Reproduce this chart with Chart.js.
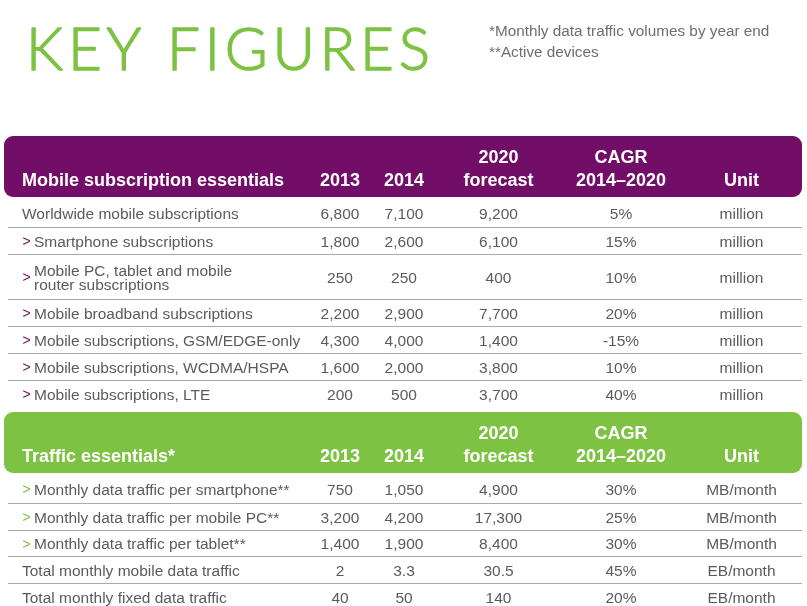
<!DOCTYPE html>
<html><head><meta charset="utf-8">
<script src="https://cdn.jsdelivr.net/npm/chart.js@4.4.0/dist/chart.umd.min.js"></script>
<style>html,body{margin:0;padding:0;background:#fff}#wrap{width:807px;height:606px;position:relative}</style>
</head><body><div id="wrap"><canvas id="c" width="807" height="606"></canvas></div>
<script>
// ---------- DATA ----------
const titleText = 'KEY FIGURES';
const footnotes = ['*Monthly data traffic volumes by year end', '**Active devices'];
const headerLine1 = ['', '', '', '2020', 'CAGR', ''];
const headerLine2 = ['', '2013', '2014', 'forecast', '2014–2020', 'Unit'];

const subSection = 'Mobile subscription essentials';
const subRows = ['Worldwide mobile subscriptions', 'Smartphone subscriptions',
  'Mobile PC, tablet and mobile\nrouter subscriptions', 'Mobile broadband subscriptions',
  'Mobile subscriptions, GSM/EDGE-only', 'Mobile subscriptions, WCDMA/HSPA', 'Mobile subscriptions, LTE'];
const subIndent = [false, true, true, true, true, true, true];
const sub2013 = [6800, 1800, 250, 2200, 4300, 1600, 200];
const sub2014 = [7100, 2600, 250, 2900, 4000, 2000, 500];
const sub2020 = [9200, 6100, 400, 7700, 1400, 3800, 3700];
const subCagr = [5, 15, 10, 20, -15, 10, 40];
const subUnit = ['million', 'million', 'million', 'million', 'million', 'million', 'million'];

const trafficSection = 'Traffic essentials*';
const trafficRows = ['Monthly data traffic per smartphone**', 'Monthly data traffic per mobile PC**',
  'Monthly data traffic per tablet**', 'Total monthly mobile data traffic', 'Total monthly fixed data traffic'];
const trafficIndent = [true, true, true, false, false];
const traffic2013 = [750, 3200, 1400, 2, 40];
const traffic2014 = [1050, 4200, 1900, 3.3, 50];
const traffic2020 = [4900, 17300, 8400, 30.5, 140];
const trafficCagr = [30, 25, 30, 45, 20];
const trafficUnit = ['MB/month', 'MB/month', 'MB/month', 'EB/month', 'EB/month'];

// ---------- LAYOUT / STYLE ----------
const LAYOUT = {
  colX: [22, 340, 404, 498.5, 621, 741.5],
  indentX: 34,
  boxLeft: 4, boxRight: 802, lineLeft: 8, lineRight: 802, radius: 9,
  headerH: 61, head1: 27, head2: 50,
  sections: [
    { top: 136, rowH: [30, 26.5, 45, 27, 27, 27, 27], color: '#730e68' },
    { top: 412, rowH: [30, 26.5, 26.5, 27, 27], color: '#7dc242' }
  ],
  title: { x: 26, y: 70, right: 430, font: '300 60px Lato', color: '#7dc242', spacing: 5, weight: 1.4 },
  notes: { x: 489, y: [36, 57], font: '15.3px "Liberation Sans"', color: '#6d6e71' },
  bodyFont: '15.5px "Liberation Sans"', headFont: 'bold 18px "Liberation Sans"', chevFont: '14px "Liberation Sans"',
  textColor: '#5a5b5e', lineColor: '#a7a9ac'
};

const fmt = v => v.toLocaleString('en-US');
const pct = v => v + '%';

function rowBaselines(sec) {
  let y = sec.top + LAYOUT.headerH;
  return sec.rowH.map(h => { y += h; return y - 7 - (h - 27) / 2; });
}

const sections = [
  { name: subSection, rows: subRows, indent: subIndent, cols: [sub2013, sub2014, sub2020, subCagr, subUnit] },
  { name: trafficSection, rows: trafficRows, indent: trafficIndent, cols: [traffic2013, traffic2014, traffic2020, trafficCagr, trafficUnit] }
];

const datasets = [];
function addCells(points, texts, opts) {
  datasets.push(Object.assign({
    type: 'scatter', data: points, cellText: texts, pointRadius: 0, pointHoverRadius: 0,
    showLine: false, align: 'center', font: LAYOUT.bodyFont, color: LAYOUT.textColor, lineH: 14
  }, opts));
}

sections.forEach((s, si) => {
  const sec = LAYOUT.sections[si];
  const bl = rowBaselines(sec);
  const h1 = sec.top + LAYOUT.head1, h2 = sec.top + LAYOUT.head2;
  addCells([{ x: LAYOUT.colX[0], y: h2 }], [s.name], { align: 'left', font: LAYOUT.headFont, color: '#fff' });
  for (let c = 1; c < 6; c++) {
    const pts = [], tx = [];
    if (headerLine1[c]) { pts.push({ x: LAYOUT.colX[c], y: h1 }); tx.push(headerLine1[c]); }
    if (headerLine2[c]) { pts.push({ x: LAYOUT.colX[c], y: h2 }); tx.push(headerLine2[c]); }
    addCells(pts, tx, { font: LAYOUT.headFont, color: '#fff' });
  }
  const chev = [], chevT = [];
  s.rows.forEach((r, i) => { if (s.indent[i]) { chev.push({ x: LAYOUT.colX[0] + 0.5, y: bl[i] - 0.5 }); chevT.push('>'); } });
  addCells(chev, chevT, { align: 'left', color: sec.color, font: LAYOUT.chevFont });
  addCells(s.rows.map((r, i) => ({ x: s.indent[i] ? LAYOUT.indentX : LAYOUT.colX[0], y: bl[i] })), s.rows, { align: 'left' });
  s.cols.forEach((col, c) => {
    const f = c < 3 ? fmt : (c === 3 ? pct : (v => v));
    addCells(col.map((v, i) => ({ x: LAYOUT.colX[c + 1], y: bl[i] })), col.map(f));
  });
});

const tablePlugin = {
  id: 'table',
  beforeDatasetsDraw(chart) {
    const { ctx, scales: { x, y } } = chart;
    ctx.save();
    // title: light face, thickened with a thin stroke, stretched to the measured span
    const T = LAYOUT.title;
    ctx.font = T.font; ctx.fillStyle = T.color; ctx.strokeStyle = T.color; ctx.lineWidth = T.weight;
    ctx.lineJoin = 'round'; ctx.textAlign = 'left'; ctx.textBaseline = 'alphabetic';
    ctx.letterSpacing = T.spacing + 'px';
    const w = ctx.measureText(titleText).width - T.spacing;
    const x0 = x.getPixelForValue(T.x);
    const target = x.getPixelForValue(T.right) - x0;
    ctx.save();
    ctx.translate(x0, y.getPixelForValue(T.y));
    ctx.scale(target / w, 1);
    ctx.fillText(titleText, 0, 0);
    ctx.strokeText(titleText, 0, 0);
    ctx.restore();
    ctx.letterSpacing = '0px';
    // footnotes
    const N = LAYOUT.notes;
    ctx.font = N.font; ctx.fillStyle = N.color;
    footnotes.forEach((t, i) => ctx.fillText(t, x.getPixelForValue(N.x), y.getPixelForValue(N.y[i])));
    // section headers and separators
    LAYOUT.sections.forEach(sec => {
      const l = x.getPixelForValue(LAYOUT.boxLeft), r = x.getPixelForValue(LAYOUT.boxRight);
      const t = y.getPixelForValue(sec.top), b = y.getPixelForValue(sec.top + LAYOUT.headerH);
      ctx.fillStyle = sec.color;
      ctx.beginPath(); ctx.roundRect(l, t, r - l, b - t, LAYOUT.radius); ctx.fill();
      ctx.strokeStyle = LAYOUT.lineColor; ctx.lineWidth = 1;
      let yy = sec.top + LAYOUT.headerH;
      sec.rowH.forEach((h, i) => {
        yy += h;
        if (i < sec.rowH.length - 1) {
          const py = Math.round(y.getPixelForValue(yy)) + 0.5;
          ctx.beginPath(); ctx.moveTo(x.getPixelForValue(LAYOUT.lineLeft), py);
          ctx.lineTo(x.getPixelForValue(LAYOUT.lineRight), py); ctx.stroke();
        }
      });
    });
    ctx.restore();
  },
  afterDatasetsDraw(chart) {
    const ctx = chart.ctx;
    ctx.save();
    chart.data.datasets.forEach((ds, di) => {
      const meta = chart.getDatasetMeta(di);
      ctx.font = ds.font; ctx.fillStyle = ds.color; ctx.textAlign = ds.align; ctx.textBaseline = 'alphabetic';
      meta.data.forEach((pt, i) => {
        const lines = String(ds.cellText[i]).split('\n');
        const off = (lines.length - 1) * ds.lineH / 2;
        lines.forEach((ln, k) => ctx.fillText(ln, pt.x, pt.y - off + k * ds.lineH));
      });
    });
    ctx.restore();
  }
};

function draw() {
  new Chart(document.getElementById('c'), {
    type: 'scatter',
    data: { datasets },
    options: {
      responsive: false, animation: false, events: [],
      layout: { padding: 0, autoPadding: false },
      plugins: { legend: { display: false }, tooltip: { enabled: false }, title: { display: false } },
      scales: {
        x: { type: 'linear', min: 0, max: 807, display: false },
        y: { type: 'linear', min: 0, max: 606, reverse: true, display: false }
      }
    },
    plugins: [tablePlugin]
  });
}
Promise.all([document.fonts.load(LAYOUT.title.font), document.fonts.load(LAYOUT.bodyFont), document.fonts.load(LAYOUT.headFont)])
  .then(draw, draw);
</script>
</body></html>
